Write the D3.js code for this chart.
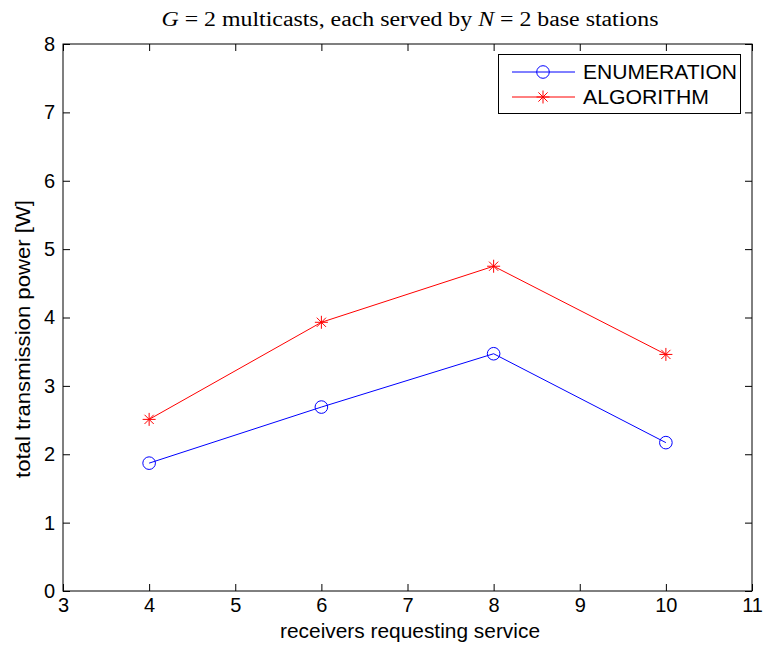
<!DOCTYPE html>
<html>
<head>
<meta charset="utf-8">
<script src="https://cdn.jsdelivr.net/npm/d3@7"></script>
<style>
  body { margin: 0; background: #fff; }
  text { font-family: "Liberation Sans", Arial, sans-serif; }
</style>
</head>
<body>
<script>
// data
var receivers = [4, 6, 8, 10];
var enumeration = [1.87, 2.69, 3.47, 2.17];
var algorithm = [2.51, 3.93, 4.75, 3.46];
var xTicks = [3, 4, 5, 6, 7, 8, 9, 10, 11];
var yTicks = [0, 1, 2, 3, 4, 5, 6, 7, 8];
var seriesNames = ["ENUMERATION", "ALGORITHM"];

var width = 767,
    height = 646;

// plot box (note: "top" is a reserved window global, so use a margin object)
var box = { left: 63, right: 752, top: 44, bottom: 591 };

var svg = d3.select("body").append("svg")
    .attr("width", width)
    .attr("height", height);

svg.append("rect").attr("width", width).attr("height", height).attr("fill", "#fff");

var x = d3.scaleLinear().domain([3, 11]).range([box.left, box.right]);
var y = d3.scaleLinear().domain([0, 8]).range([box.bottom, box.top]);

// axes - ticks point inward, mirrored on all sides
var fs = 20;
var tickLen = 7;

var xAxis = d3.axisBottom(x).tickValues(xTicks).tickSizeInner(-tickLen).tickSizeOuter(0).tickPadding(7);
var gx = svg.append("g").attr("transform", "translate(0," + box.bottom + ")").call(xAxis);
gx.selectAll("text").attr("font-size", fs).attr("fill", "#000").attr("font-family", "Liberation Sans, Arial, sans-serif");

var xTop = d3.axisTop(x).tickValues(xTicks).tickSizeInner(-tickLen).tickSizeOuter(0).tickFormat("");
svg.append("g").attr("transform", "translate(0," + box.top + ")").call(xTop);

var yAxis = d3.axisLeft(y).tickValues(yTicks).tickSizeInner(-tickLen).tickSizeOuter(0).tickPadding(8);
var gy = svg.append("g").attr("transform", "translate(" + box.left + ",0)").call(yAxis);
gy.selectAll("text").attr("font-size", fs).attr("fill", "#000").attr("font-family", "Liberation Sans, Arial, sans-serif");

var yRight = d3.axisRight(y).tickValues(yTicks).tickSizeInner(-tickLen).tickSizeOuter(0).tickFormat("");
svg.append("g").attr("transform", "translate(" + box.right + ",0)").call(yRight);

svg.selectAll(".domain").remove();
svg.selectAll(".tick line").attr("stroke", "#000");

// frame
svg.append("rect")
    .attr("x", box.left).attr("y", box.top)
    .attr("width", box.right - box.left).attr("height", box.bottom - box.top)
    .attr("fill", "none").attr("stroke", "#000").attr("stroke-width", 1);

// axis labels
svg.append("text")
    .attr("x", 410).attr("y", 638)
    .attr("text-anchor", "middle").attr("font-size", fs)
    .attr("textLength", 260).attr("lengthAdjust", "spacingAndGlyphs")
    .text("receivers requesting service");

svg.append("text")
    .attr("transform", "translate(30,339) rotate(-90)")
    .attr("text-anchor", "middle").attr("font-size", fs)
    .attr("textLength", 278).attr("lengthAdjust", "spacingAndGlyphs")
    .text("total transmission power [W]");

// title
var title = svg.append("text")
    .attr("x", 410).attr("y", 26)
    .attr("text-anchor", "middle")
    .style("font-family", "'Liberation Serif', 'DejaVu Serif', serif")
    .attr("font-size", 20)
    .attr("textLength", 497).attr("lengthAdjust", "spacingAndGlyphs");
title.append("tspan").attr("font-style", "italic").text("G");
title.append("tspan").text(" = 2 multicasts, each served by ");
title.append("tspan").attr("font-style", "italic").text("N");
title.append("tspan").text(" = 2 base stations");

var line = d3.line()
    .x(function(d) { return x(d[0]); })
    .y(function(d) { return y(d[1]); });

var enumPts = receivers.map(function(r, i) { return [r, enumeration[i]]; });
var algPts = receivers.map(function(r, i) { return [r, algorithm[i]]; });

function star(g, cx, cy, color) {
  var a = 6.5, b = 4.6;
  var segs = [[-a, 0, a, 0], [0, -a, 0, a], [-b, -b, b, b], [-b, b, b, -b]];
  segs.forEach(function(s) {
    g.append("line")
      .attr("x1", cx + s[0]).attr("y1", cy + s[1])
      .attr("x2", cx + s[2]).attr("y2", cy + s[3])
      .attr("stroke", color).attr("stroke-width", 1);
  });
}

svg.append("path").datum(enumPts)
    .attr("d", line).attr("fill", "none").attr("stroke", "#0000ff").attr("stroke-width", 1);
svg.append("path").datum(algPts)
    .attr("d", line).attr("fill", "none").attr("stroke", "#ff0000").attr("stroke-width", 1);

svg.selectAll(".enum").data(enumPts).enter().append("circle")
    .attr("class", "enum")
    .attr("cx", function(d) { return x(d[0]); })
    .attr("cy", function(d) { return y(d[1]); })
    .attr("r", 6.3)
    .attr("fill", "none").attr("stroke", "#0000ff").attr("stroke-width", 1);

var starG = svg.append("g");
algPts.forEach(function(d) { star(starG, x(d[0]), y(d[1]), "#ff0000"); });

// legend
var lg = svg.append("g");
lg.append("rect")
    .attr("x", 498.5).attr("y", 54.5).attr("width", 242).attr("height", 59)
    .attr("fill", "#fff").attr("stroke", "#000").attr("stroke-width", 1);
var rows = [72, 97];
var colors = ["#0000ff", "#ff0000"];
var textLens = [154, 126];
seriesNames.forEach(function(name, i) {
  lg.append("line")
    .attr("x1", 512).attr("x2", 575).attr("y1", rows[i]).attr("y2", rows[i])
    .attr("stroke", colors[i]).attr("stroke-width", 1);
  if (i === 0) {
    lg.append("circle").attr("cx", 543).attr("cy", rows[i]).attr("r", 6.3)
      .attr("fill", "none").attr("stroke", colors[i]);
  } else {
    star(lg, 543, rows[i], colors[i]);
  }
  lg.append("text")
    .attr("x", 583).attr("y", rows[i] + 7)
    .attr("font-size", fs)
    .attr("textLength", textLens[i]).attr("lengthAdjust", "spacingAndGlyphs")
    .text(name);
});
</script>
</body>
</html>
